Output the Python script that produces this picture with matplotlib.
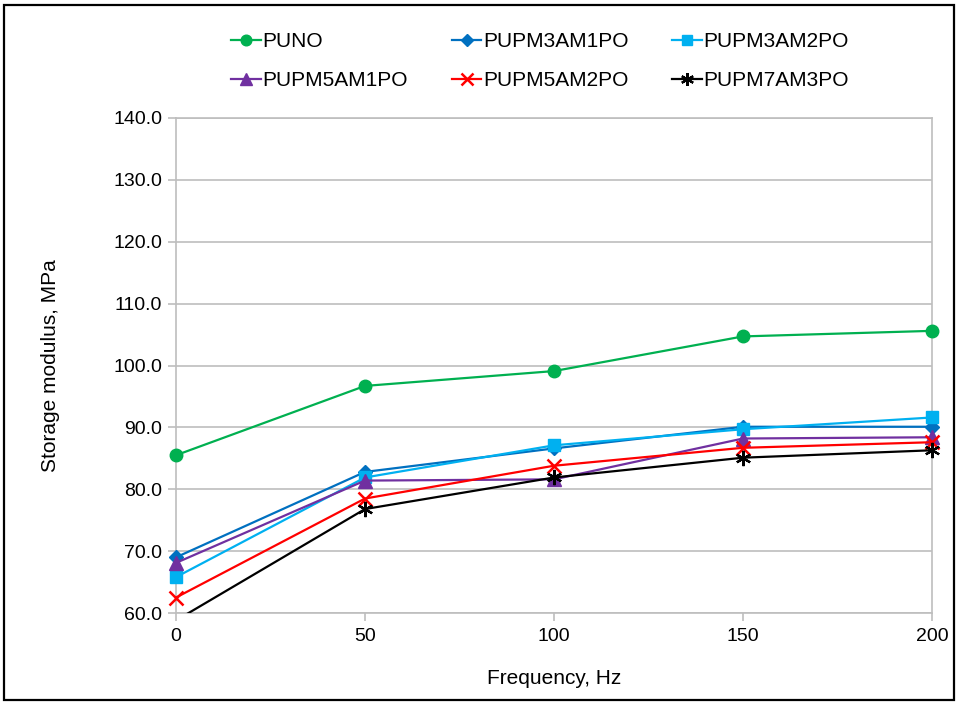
import matplotlib
matplotlib.use("Agg")
import matplotlib.pyplot as plt
import numpy as np
from matplotlib.patches import Rectangle

plt.rcParams['font.family'] = ['Liberation Sans', 'DejaVu Sans']

# 数据
freq = [0, 50, 100, 150, 200]
puno = [85.5, 96.7, 99.1, 104.7, 105.6]
pupm3am1po = [69.0, 82.8, 86.6, 90.1, 90.1]
pupm3am2po = [65.8, 81.9, 87.1, 89.7, 91.6]
pupm5am1po = [68.1, 81.4, 81.6, 88.2, 88.4]
pupm5am2po = [62.5, 78.5, 83.8, 86.7, 87.6]
pupm7am3po = [58.8, 76.8, 81.9, 85.1, 86.3]

yticks = [60, 70, 80, 90, 100, 110, 120, 130, 140]

fig = plt.figure(figsize=(9.58, 7.04), dpi=100)
ax = fig.add_axes([176 / 958, 1 - 613 / 704, (932 - 176) / 958, (613 - 118) / 704])

kw = dict(lw=1.6, clip_on=False, zorder=3)
h1, = ax.plot(freq, puno, color='#00B050', marker='o', ms=9, label='PUNO', **kw)
h2, = ax.plot(freq, pupm3am1po, color='#0070C0', marker='D', ms=7, label='PUPM3AM1PO', **kw)
h3, = ax.plot(freq, pupm3am2po, color='#00B0F0', marker='s', ms=9, label='PUPM3AM2PO', **kw)
h4, = ax.plot(freq, pupm5am1po, color='#7030A0', marker='^', ms=10, label='PUPM5AM1PO', **kw)
h5, = ax.plot(freq, pupm5am2po, color='#FF0000', marker='x', ms=10, mew=1.8, label='PUPM5AM2PO', **kw)
# 黑线低于60的部分被裁掉, 标记单独画
ax.plot(freq, pupm7am3po, color='black', lw=1.6, zorder=3)
y7 = np.ma.masked_less(pupm7am3po, 60)
ax.plot(freq, y7, ls='none', color='black', marker=(6, 2, 0), ms=11, mew=1.6, clip_on=False, zorder=3)
h6, = ax.plot([], [], color='black', lw=1.6, marker=(6, 2, 0), ms=11, mew=1.6)

ax.set_xlim(0, 200)
ax.set_ylim(60, 140)
ax.set_xticks(freq)
ax.set_yticks(yticks)
ax.set_yticklabels(['%.1f' % v for v in yticks])
ax.yaxis.grid(True, color='#BEBEBE', lw=1.2)
ax.set_axisbelow(True)
for s in ax.spines.values():
    s.set_color('#BEBEBE')
    s.set_linewidth(1.2)
ax.tick_params(axis='both', colors='#BEBEBE', length=6, width=1.2, labelcolor='black', labelsize=14)
ax.tick_params(axis='y', pad=4)
ax.tick_params(axis='x', pad=5)

ax.set_xlabel('Frequency, Hz', fontsize=15, labelpad=17)
ax.set_ylabel('Storage modulus, MPa', fontsize=15, labelpad=38)

fig.legend([h1, h4, h2, h5, h3, h6],
           ['PUNO', 'PUPM5AM1PO', 'PUPM3AM1PO', 'PUPM5AM2PO', 'PUPM3AM2PO', 'PUPM7AM3PO'],
           ncol=3, loc='center', bbox_to_anchor=(0.564, 0.913), frameon=False,
           fontsize=15, handlelength=1.4, handletextpad=0.1, columnspacing=2.1,
           labelspacing=0.95, markerscale=0.85)

# 外框
fig.patches.append(Rectangle((4 / 958, 4 / 704), 950 / 958, 695 / 704, transform=fig.transFigure,
                             fill=False, edgecolor='black', lw=1.6))

fig.savefig('out.png', dpi=100)
